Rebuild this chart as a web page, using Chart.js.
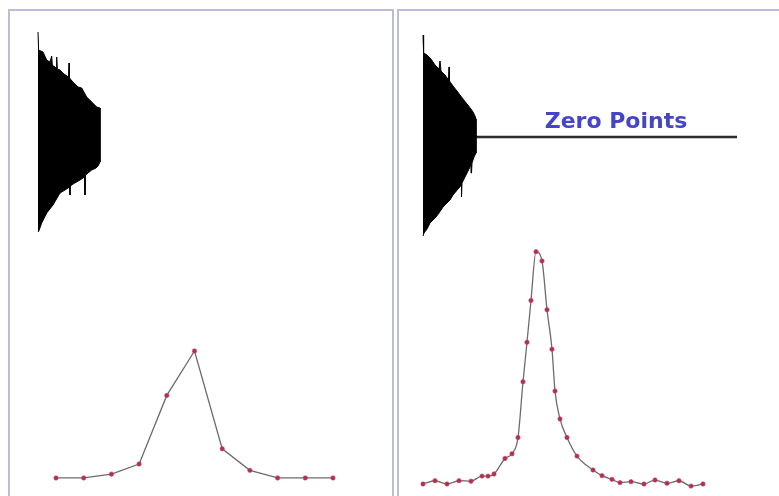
<!DOCTYPE html>
<html>
<head>
<meta charset="utf-8">
<script src="https://cdn.jsdelivr.net/npm/chart.js@4.4.1/dist/chart.umd.min.js"></script>
<style>
  html, body { margin: 0; padding: 0; background: #fff; width: 779px; height: 496px; overflow: hidden; }
  .panel { position: absolute; top: 9px; height: 520px; border: 2px solid #bdbdd6; box-sizing: border-box; }
  #panelL { left: 8px; width: 386px; }
  #panelR { left: 397px; width: 420px; }
  canvas { position: absolute; }
  #chartL { left: 10px; top: 11px; }
  #chartR { left: 399px; top: 11px; }
</style>
</head>
<body>
<div class="panel" id="panelL"></div>
<div class="panel" id="panelR"></div>
<canvas id="chartL" width="382" height="485"></canvas>
<canvas id="chartR" width="380" height="485"></canvas>
<script>
// ---------------- DATA ----------------

// FID envelopes, [time point, amplitude]
const fidLeftUpper = [[0,105],[0.6,87],[5,85],[8.7,77],[12,75],[13.7,81],[14.3,72],[18,69],[18.7,80],[19.3,68],[22,67],[26,63],[30.5,60],[31,74],[31.5,59],[34,56],[40,50],[43.7,49],[48.7,40],[53.7,35],[58.7,30],[62,29]];
const fidLeftLower = [[0,-95],[0.8,-94],[3.7,-86],[8.7,-76],[15,-68],[22,-56],[27,-53],[31.5,-50],[32,-58],[32.5,-49],[35,-47],[42,-43],[46.5,-40],[47,-58],[47.5,-38],[50,-36],[53.7,-33],[58,-31],[60,-29],[62,-25]];

const fidRightUpper = [[0,102],[0.6,84],[4,82],[8,78],[12,72],[16,68],[17,76],[18,66],[22,62],[25.5,57],[26,70],[26.5,56],[30,51],[34,46],[37,42],[40,38],[44,33],[48,28],[50,25],[52,21],[53,18]];
const fidRightLower = [[0,-99],[1,-96],[4,-92],[7,-86],[10,-83],[13,-80],[16,-76],[20,-70],[24,-66],[27,-63],[30,-58],[35,-52],[38.3,-48],[38.7,-60],[39,-46],[42,-40],[45,-34],[48,-28],[48.5,-36],[49,-26],[51,-20],[53,-16]];

// zero filled part after the acquired FID
const zeroFillTime = [53, 314];
const zeroFillAmp = [0, 0];
const zeroLabel = 'Zero Points';

// spectra
const specLeftFreq = [0, 1, 2, 3, 4, 5, 6, 7, 8, 9, 10];
const specLeftInt  = [0, 0, 3, 11, 65, 100, 23, 6, 0, 0, 0];

const specRightFreq = [1, 13, 25, 37, 49, 60, 66, 72, 83, 90, 96, 101, 105, 109, 114, 120, 125, 130, 133, 138, 145, 155, 171, 180, 190, 198, 209, 222, 233, 245, 257, 269, 281];
const specRightInt  = [0, 1.4, 0, 1.4, 1.2, 3.4, 3.4, 4.3, 11, 13, 20, 44, 61, 79, 100, 96, 75, 58, 40, 28, 20, 12, 6, 3.6, 2, 0.6, 1, 0, 1.7, 0.3, 1.4, -0.9, 0];


// ---------------- HELPERS ----------------

const pts = (xs, ys) => xs.map((x, i) => ({ x, y: ys[i] }));
const outline = (upper, lower) =>
  upper.concat(lower.slice().reverse()).map(([x, y]) => ({ x, y }));

function hiddenScale(axis, min, max) {
  return { type: 'linear', axis, display: false, min, max };
}

function fidDataset(upper, lower) {
  return {
    data: outline(upper, lower),
    xAxisID: 'xFid', yAxisID: 'yFid',
    borderColor: '#000', backgroundColor: '#000',
    borderWidth: 1, pointRadius: 0,
    fill: 'shape', tension: 0
  };
}

function specDataset(xs, ys, smooth) {
  return {
    data: pts(xs, ys),
    xAxisID: 'xSpec', yAxisID: 'ySpec',
    borderColor: '#6c6c6c', borderWidth: 1.3,
    pointRadius: 2.2, pointBackgroundColor: '#b3304c',
    pointBorderColor: '#c5466a', pointBorderWidth: 0.6,
    fill: false,
    tension: smooth ? 0.4 : 0,
    cubicInterpolationMode: smooth ? 'monotone' : 'default'
  };
}

const baseOptions = {
  responsive: false,
  animation: false,
  layout: { padding: 0, autoPadding: false },
  plugins: { legend: { display: false }, tooltip: { enabled: false } }
};

// -------- LABEL ABOVE THE ZERO LINE --------

const zeroLabelPlugin = {
  id: 'zeroLabel',
  afterDatasetsDraw(chart) {
    const { ctx, scales } = chart;
    const x = scales.xFid.getPixelForValue(193);
    const y = scales.yFid.getPixelForValue(8.7);
    ctx.save();
    ctx.font = 'bold 22px "DejaVu Sans"';
    ctx.fillStyle = '#4545c6';
    ctx.textAlign = 'center';
    ctx.textBaseline = 'alphabetic';
    ctx.fillText(zeroLabel, x, y);
    ctx.restore();
  }
};


// ---------------- LEFT PANEL ----------------

new Chart(document.getElementById('chartL'), {
  type: 'line',
  data: {
    datasets: [
      fidDataset(fidLeftUpper, fidLeftLower),
      specDataset(specLeftFreq, specLeftInt, false)
    ]
  },
  options: {
    ...baseOptions,
    scales: {
      xFid: hiddenScale('x', -28, 354),
      yFid: hiddenScale('y', -359, 126),
      xSpec: hiddenScale('x', -1.661, 12.13),
      ySpec: hiddenScale('y', -14.2, 367.7)
    }
  }
});


// ---------------- RIGHT PANEL ----------------

new Chart(document.getElementById('chartR'), {
  type: 'line',
  data: {
    datasets: [
      fidDataset(fidRightUpper, fidRightLower),
      {
        data: pts(zeroFillTime, zeroFillAmp),
        xAxisID: 'xFid', yAxisID: 'yFid',
        borderColor: '#2b2b2b', borderWidth: 2.5,
        pointRadius: 0, fill: false
      },
      specDataset(specRightFreq, specRightInt, true)
    ]
  },
  options: {
    ...baseOptions,
    scales: {
      xFid: hiddenScale('x', -24, 356),
      yFid: hiddenScale('y', -359, 126),
      xSpec: hiddenScale('x', -23, 357),
      ySpec: hiddenScale('y', -5.17, 203.6)
    }
  },
  plugins: [zeroLabelPlugin]
});
</script>
</body>
</html>
